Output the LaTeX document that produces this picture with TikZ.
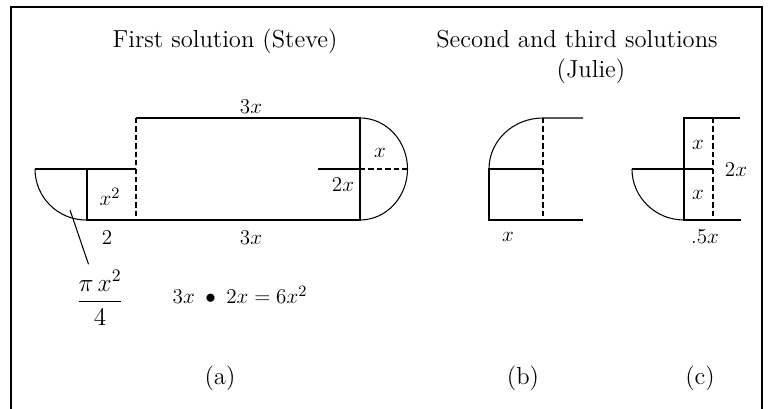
\documentclass[tikz,border=0pt]{standalone}
\usepackage{amsmath,amssymb}
\usepackage{tikz}
\usetikzlibrary{positioning}

\begin{document}
\begin{tikzpicture}[
          x=1cm, y=1cm,
          every node/.style={font=\fontsize{12.5}{15}\selectfont},
          edge/.style={line width=0.6pt},
          cut/.style={line width=0.6pt, dash pattern=on 3pt off 1.8pt},
          frame/.style={line width=0.8pt},
          ttl/.style={font=\fontsize{14}{17}\selectfont, anchor=base},
          tag/.style={font=\fontsize{14}{17}\selectfont}
      ]
        \useasboundingbox (0,0) rectangle (15.4,8.18);
        \draw[frame] (0.22,0) -- (0.22,8.04) -- (15.24,8.04) -- (15.24,0);

        \node[ttl] (steve) at (4.5,7.22) {First solution (Steve)};
        \node[ttl] (julie) at (11.54,7.22) {Second and third solutions};
        \node[ttl] (julie2) at (11.82,6.62) {(Julie)};

        % (a)
        \draw[edge] (2.72,5.82) -- (7.2,5.82) -- (7.2,3.78) -- (1.74,3.78) -- (1.74,4.8);
        \draw[edge] (0.7,4.8) -- (2.72,4.8);
        \draw[edge] (0.7,4.8) arc[start angle=180, end angle=270, radius=1.02];
        \draw[cut] (2.72,5.82) -- (2.72,3.78);
        \draw[edge] (7.2,5.82) arc[start angle=90, end angle=-90, x radius=0.95, y radius=1.02];
        \draw[edge] (6.36,4.8) -- (7.2,4.8);
        \draw[cut] (7.2,4.8) -- (8.15,4.8);

        \node (top3x) at (5.02,6.04) {$3x$};
        \node (bot3x) at (5.02,3.42) {$3x$};
        \node (two) at (2.14,3.42) {$2$};
        \node (sq) at (2.2,4.24) {$x^2$};
        \node (capx) at (7.6,5.12) {$x$};
        \node (cap2x) at (6.86,4.48) {$2x$};

        \coordinate (sector) at (1.4,3.98);
        \node[tag] (frac) at (2.0,2.22) {$\dfrac{\pi\,x^2}{4}$};
        \draw[edge] (sector) -- (frac);
        \node (area) at (4.8,2.28) {$3x \;\bullet\; 2x = 6x^2$};

        % (b)
        \draw[edge] (9.78,4.8) arc[start angle=180, end angle=90, x radius=1.08, y radius=1.02] -- (11.66,5.82);
        \draw[edge] (10.86,4.8) -- (9.78,4.8) -- (9.78,3.78) -- (11.66,3.78);
        \draw[cut] (10.86,5.82) -- (10.86,3.78);
        \node (bx) at (10.16,3.44) {$x$};

        % (c)
        \draw[edge] (14.8,5.82) -- (13.68,5.82) -- (13.68,3.78) -- (14.82,3.78);
        \draw[edge] (12.64,4.8) -- (14.26,4.8);
        \draw[edge] (12.64,4.8) arc[start angle=180, end angle=270, x radius=1.04, y radius=1.02];
        \draw[cut] (14.26,5.82) -- (14.26,3.78);
        \node (cx1) at (13.96,5.28) {$x$};
        \node (cx2) at (13.96,4.28) {$x$};
        \node (c2x) at (14.72,4.78) {$2x$};
        \node (chalf) at (14.1,3.44) {$.5x$};

        \node[tag] (taga) at (4.4,0.62) {(a)};
        \node[tag] (tagb) at (10.46,0.62) {(b)};
        \node[tag] (tagc) at (14.0,0.62) {(c)};
      \end{tikzpicture}
\end{document}
